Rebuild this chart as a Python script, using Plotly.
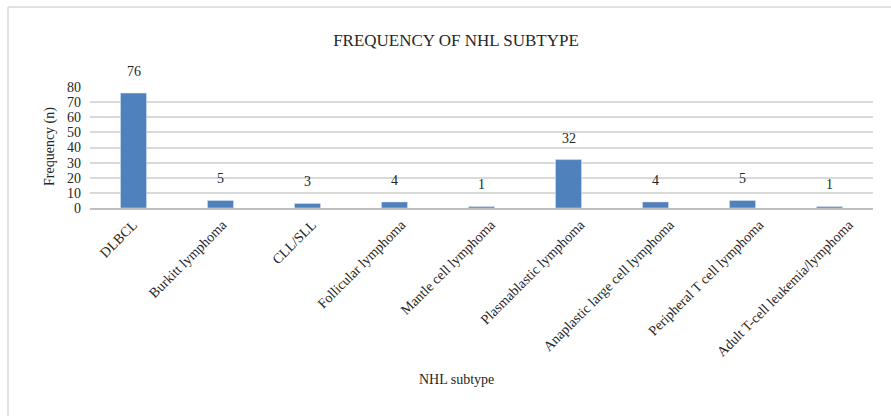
import plotly.graph_objects as go

categories = ["DLBCL", "Burkitt lymphoma", "CLL/SLL", "Follicular lymphoma",
              "Mantle cell lymphoma", "Plasmablastic lymphoma",
              "Anaplastic large cell lymphoma", "Peripheral T cell lymphoma",
              "Adult T-cell leukemia/lymphoma"]
frequency = [76, 5, 3, 4, 1, 32, 4, 5, 1]
y_ticks = [0, 10, 20, 30, 40, 50, 60, 70, 80]

W, H = 891, 416
L, R, T, B = 90, 18, 87, 208
font_family = "Liberation Serif, Times New Roman, serif"

pw = W - L - R
ph = H - T - B
def px_x(p):
    return (p - L) / pw
def px_y(p):
    return (H - B - p) / ph

idx = list(range(len(categories)))

fig = go.Figure()
fig.add_trace(go.Bar(x=idx, y=frequency, marker_color="#4F81BD",
                     width=0.3, showlegend=False))
# helper (invisible) trace carrying the tick-label axis
fig.add_trace(go.Scatter(x=idx, y=frequency, xaxis="x2", mode="markers",
                         marker=dict(size=1, opacity=0), hoverinfo="skip",
                         showlegend=False))

for i, v in zip(idx, frequency):
    fig.add_annotation(x=i, y=v, text=str(v), showarrow=False, yanchor="bottom",
                       yshift=12, font=dict(family=font_family, size=14, color="#262626"))

# chart area border (left & top)
fig.add_shape(type="line", xref="paper", yref="paper",
              x0=px_x(8), x1=px_x(8), y0=px_y(7), y1=px_y(420),
              line=dict(color="#D9D9D9", width=1.5))
fig.add_shape(type="line", xref="paper", yref="paper",
              x0=px_x(8), x1=px_x(895), y0=px_y(7), y1=px_y(7),
              line=dict(color="#D9D9D9", width=1.5))

fig.add_annotation(xref="paper", yref="paper", x=px_x(456), y=px_y(380),
                   xanchor="center", yanchor="middle",
                   text="NHL subtype", showarrow=False,
                   font=dict(family=font_family, size=14, color="#262626"))
fig.add_annotation(xref="paper", yref="paper", x=px_x(50), y=px_y(147),
                   xanchor="center", yanchor="middle",
                   text="Frequency (n)", showarrow=False, textangle=-90,
                   font=dict(family=font_family, size=14, color="#262626"))

n = len(categories)
# bars: category band = pw / n px
r0 = -0.5
r1 = n - 0.5
# label axis: slightly wider spacing, as in the reference
lab_step = 89.5
first_px = 133
lr0 = (L - first_px) / lab_step
lr1 = lr0 + pw / lab_step

fig.update_layout(
    width=W, height=H,
    margin=dict(l=L, r=R, t=T, b=B, autoexpand=False),
    plot_bgcolor="white", paper_bgcolor="white",
    title=dict(text="FREQUENCY OF NHL SUBTYPE", x=456 / W,
               xanchor="center", y=1 - 40 / H, yanchor="middle", yref="container",
               font=dict(family=font_family, size=17, color="#262626")),
    font=dict(family=font_family, color="#262626"),
    xaxis=dict(range=[r0, r1], showticklabels=False, showline=True,
               linecolor="#BFBFBF", linewidth=1.5, ticks="", showgrid=False,
               zeroline=False, automargin=False),
    xaxis2=dict(range=[lr0, lr1], overlaying="x", side="bottom", anchor="y",
                tickvals=idx, ticktext=categories, tickangle=-45,
                tickfont=dict(size=14, family=font_family, color="#262626"),
                showline=False, ticks="", showgrid=False, zeroline=False,
                automargin=False, ticklabelstandoff=5),
    yaxis=dict(range=[0, 80], tickvals=y_ticks, showgrid=True,
               gridcolor="#D9D9D9", gridwidth=1.5, zeroline=False,
               showline=False, ticks="", tickfont=dict(size=14, family=font_family),
               ticklabelstandoff=8, automargin=False),
)

fig.write_html("out.html", config={"displayModeBar": False},
               post_script="document.body.style.margin='0';document.body.style.overflow='hidden';")
